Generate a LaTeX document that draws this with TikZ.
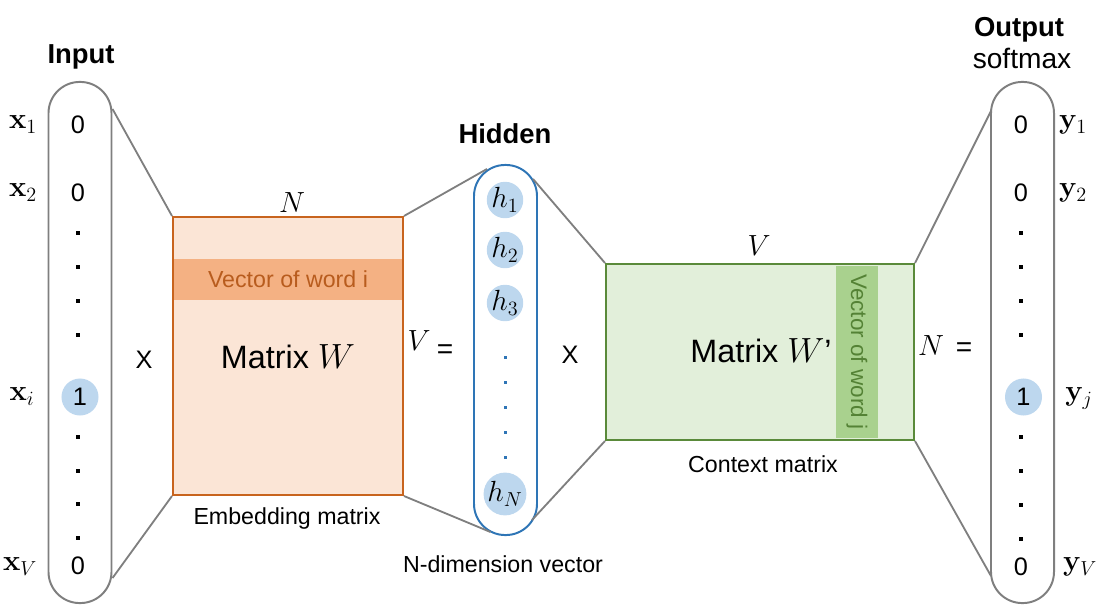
\documentclass[tikz,border=0pt]{standalone}
\usepackage[no-math]{fontspec}
\setmainfont{Liberation Sans}
\usetikzlibrary{calc}
\definecolor{linegray}{HTML}{7F7F7F}
\definecolor{hotblue}{HTML}{BDD7EE}
\definecolor{hidblue}{HTML}{2E75B6}
\definecolor{embfill}{HTML}{FBE5D6}
\definecolor{embline}{HTML}{C8641E}
\definecolor{embband}{HTML}{F4B183}
\definecolor{embtext}{HTML}{B85C1E}
\definecolor{ctxfill}{HTML}{E2EFDA}
\definecolor{ctxline}{HTML}{5A8A3A}
\definecolor{ctxband}{HTML}{A9D18E}
\definecolor{ctxtext}{HTML}{548235}
\begin{document}
\begin{tikzpicture}
[
x=0.025cm, y=-0.025cm,
pill/.style={rectangle, rounded corners=0.78cm, draw=linegray, line width=1.4pt, minimum width=1.575cm, minimum height=13.025cm},
emb/.style={rectangle, draw=embline, fill=embfill, line width=1.4pt, minimum width=5.75cm, minimum height=6.95cm},
embbar/.style={rectangle, fill=embband, text=embtext, minimum width=5.7cm, minimum height=1.025cm, font=\fontsize{16.5}{19}\selectfont},
ctx/.style={rectangle, draw=ctxline, fill=ctxfill, line width=1.4pt, minimum width=7.7cm, minimum height=4.4cm},
ctxbar/.style={rectangle, fill=ctxband, text=ctxtext, minimum width=4.3cm, minimum height=1.05cm, font=\fontsize{16}{19}\selectfont},
head/.style={font=\fontsize{19.5}{23}\selectfont\bfseries, anchor=base},
lbl/.style={font=\fontsize{16.5}{19}\selectfont},
captext/.style={font=\fontsize{16.5}{19}\selectfont, anchor=base},
big/.style={font=\fontsize{23}{27}\selectfont},
val/.style={font=\fontsize{18}{21}\selectfont},
hot/.style={circle, fill=hotblue, minimum size=0.925cm, inner sep=0pt, font=\fontsize{18}{21}\selectfont},
hcirc/.style={circle, fill=hotblue, minimum size=0.875cm, inner sep=0pt, font=\fontsize{22}{26}\selectfont},
mlbl/.style={font=\fontsize{21}{24}\selectfont, anchor=mid},
dim/.style={font=\fontsize{22}{26}\selectfont, anchor=base},
dot/.style={rectangle, fill=black, minimum size=0.09cm, inner sep=0pt},
hdot/.style={rectangle, fill=hidblue, minimum size=0.075cm, inner sep=0pt},
link/.style={draw=linegray, line width=1.3pt},
]
\useasboundingbox (0,0) rectangle (1100,605);

% columns
\node at (80,342.5) [pill] (inpill) {};
\node at (505.5,350) [pill, draw=hidblue, minimum height=9.25cm] (hidpill) {};
\node at (1022.5,342.5) [pill] (outpill) {};

% matrices
\node at (288,356) [emb] (emb) {};
\node at (288,279.5) [embbar] (embbar) {Vector of word i};
\node at (288,357) [big] (embtxt) {Matrix $W$};
\node at (760,352) [ctx] (ctx) {};
\node at (857,352) [ctxbar, rotate=-90] (ctxbar) {Vector of word j};
\node at (761,351) [big] (ctxtxt) {Matrix $W$'};

% headers
\node at (81,63) [head] (inhead) {Input};
\node at (505,143) [head] (hidhead) {Hidden};
\node at (1019,36) [head] (outhead) {Output};
\node at (1022,68) [lbl, anchor=base, font=\fontsize{20}{23}\selectfont] (softmax) {softmax};

% input vector
\node at (78,125) [val] (x1v) {0};
\node at (78,193) [val] (x2v) {0};
\node at (80,397) [hot] (xiv) {1};
\node at (78,566) [val] (xVv) {0};
\foreach \y in {233,267,301,335,437,471,504,538}
  \node at (78,\y) [dot] (xd\y) {};
\node at (23,125) [mlbl] (x1) {$\mathbf{x}_1$};
\node at (23,193) [mlbl] (x2) {$\mathbf{x}_2$};
\node at (22,397) [mlbl] (xi) {$\mathbf{x}_i$};
\node at (20,567) [mlbl] (xV) {$\mathbf{x}_V$};

% hidden vector
\node at (505,200) [hcirc] (h1) {$h_1$};
\node at (505,250) [hcirc] (h2) {$h_2$};
\node at (505,303) [hcirc] (h3) {$h_3$};
\node at (505,494) [hcirc] (hN) {$h_N$};
\foreach \y in {357,382,407,432,457}
  \node at (505,\y) [hdot] (hd\y) {};

% output vector
\node at (1021,125) [val] (y1v) {0};
\node at (1021,193) [val] (y2v) {0};
\node at (1023.5,397) [hot] (yjv) {1};
\node at (1021,567) [val] (yVv) {0};
\foreach \y in {233,267,301,335,437,471,505,539}
  \node at (1021,\y) [dot] (yd\y) {};
\node at (1073,125) [mlbl] (y1) {$\mathbf{y}_1$};
\node at (1073,193) [mlbl] (y2) {$\mathbf{y}_2$};
\node at (1079,397) [mlbl] (yj) {$\mathbf{y}_j$};
\node at (1080,567) [mlbl] (yV) {$\mathbf{y}_V$};

% sizes and operators
\node at (292,212) [dim] (embN) {$N$};
\node at (759,255) [dim] (ctxV) {$V$};
\node at (419,350) [dim] (hidV) {$V$};
\node at (445,352) [lbl, font=\fontsize{20}{23}\selectfont] (eq1) {=};
\node at (931,355) [dim] (ctxN) {$N$};
\node at (964,350) [lbl, font=\fontsize{20}{23}\selectfont] (eq2) {=};
\node at (144,360) [lbl, font=\fontsize{18}{21}\selectfont] (times1) {X};
\node at (570,355) [lbl, font=\fontsize{18}{21}\selectfont] (times2) {X};

% captions
\node at (287,524) [captext] (embcap) {Embedding matrix};
\node at (503,572) [captext] (hidcap) {N-dimension vector};
\node at (763,472) [captext] (ctxcap) {Context matrix};

% connectors
\draw[link] ($(inpill.north east)+(0,28)$) -- (emb.north west);
\draw[link] ($(inpill.south east)+(0,-26)$) -- (emb.south west);
\draw[link] (emb.north east) -- ($(hidpill.north)+(-18.5,5)$);
\draw[link] (emb.south east) -- ($(hidpill.south)+(-15,-4)$);
\draw[link] ($(hidpill.north)+(27.5,15)$) -- (ctx.north west);
\draw[link] ($(hidpill.south)+(26.5,-16)$) -- (ctx.south west);
\draw[link] (ctx.north east) -- ($(outpill.north west)+(1,30)$);
\draw[link] (ctx.south east) -- ($(outpill.south west)+(1,-28)$);

\end{tikzpicture}
\end{document}
